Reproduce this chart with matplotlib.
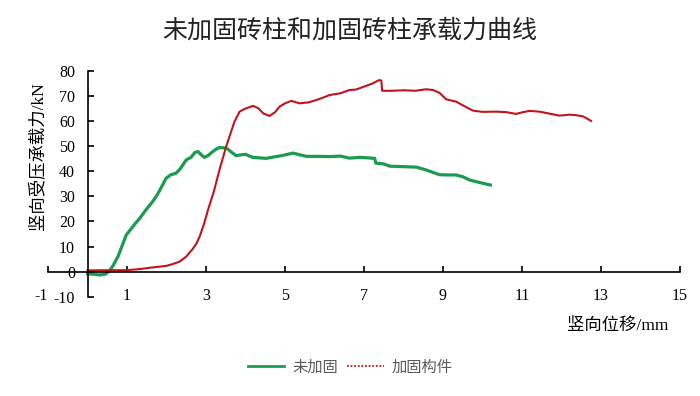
import matplotlib
matplotlib.use("Agg")
import matplotlib.pyplot as plt
from matplotlib.lines import Line2D

plt.rcParams["axes.unicode_minus"] = False

# 未加固 (unreinforced) - displacement mm / load kN
x_plain = [0, 0.15, 0.3, 0.45, 0.55, 0.65, 0.77, 0.88, 0.98, 1.1, 1.2, 1.32, 1.45, 1.55,
           1.65, 1.78, 1.9, 1.99, 2.1, 2.24, 2.35, 2.5, 2.62, 2.72, 2.8, 2.88, 2.96, 3.05,
           3.17, 3.26, 3.34, 3.45, 3.55, 3.65, 3.76, 3.88, 4.01, 4.1, 4.19, 4.35, 4.52,
           4.7, 4.95, 5.2, 5.35, 5.54, 5.87, 6.13, 6.4, 6.63, 6.9, 7.1, 7.27, 7.3, 7.5,
           7.65, 8.0, 8.33, 8.57, 8.91, 9.1, 9.33, 9.5, 9.67, 9.9, 10.2]
y_plain = [-0.9, -1.0, -1.3, -1.0, 0.2, 2.5, 6, 10.5, 14.6, 17, 19, 21.2, 24, 26,
           27.9, 31, 34.5, 37.2, 38.5, 39.2, 41, 44.5, 45.5, 47.5, 47.8, 46.5, 45.5, 46.2,
           47.8, 48.8, 49.4, 49.3, 48.8, 47.5, 46.2, 46.5, 46.7, 46.0, 45.5, 45.3, 45.1,
           45.6, 46.3, 47.2, 46.6, 45.9, 45.9, 45.8, 46.0, 45.2, 45.5, 45.3, 45.1, 43.2, 42.9,
           42.0, 41.8, 41.6, 40.5, 38.6, 38.5, 38.5, 37.8, 36.5, 35.6, 34.5]

# 加固构件 (reinforced)
x_reinf = [0, 0.5, 0.98, 1.3, 1.6, 1.99, 2.15, 2.33, 2.5, 2.66, 2.75, 2.84, 2.95, 3.05,
           3.2, 3.34, 3.51, 3.62, 3.72, 3.85, 3.98, 4.1, 4.19, 4.33, 4.45, 4.61, 4.75,
           4.86, 5.0, 5.16, 5.37, 5.6, 5.79, 6.0, 6.13, 6.4, 6.63, 6.8, 6.97, 7.2, 7.39,
           7.44, 7.46, 7.7, 8.0, 8.3, 8.57, 8.75, 8.91, 9.08, 9.33, 9.55, 9.76, 10.0,
           10.35, 10.6, 10.85, 11.0, 11.19, 11.44, 11.7, 11.95, 12.2, 12.37, 12.55, 12.75]
y_reinf = [0.5, 0.6, 0.6, 1.0, 1.6, 2.3, 3.0, 4.0, 6.0, 9.0, 11, 14, 19, 24.6,
           32, 40.5, 49.8, 55, 59.7, 63.7, 64.8, 65.5, 66, 65, 63, 62, 63.5,
           65.7, 67, 68, 67, 67.4, 68.3, 69.5, 70.3, 71.0, 72.3, 72.5, 73.5, 74.8, 76.3,
           76.0, 72.0, 72.0, 72.2, 72.0, 72.6, 72.3, 71.2, 68.6, 67.7, 65.8, 64.1, 63.6,
           63.7, 63.5, 62.8, 63.4, 64.0, 63.7, 62.9, 62.1, 62.5, 62.3, 61.8, 60.0]

series_names = ["未加固", "加固构件"]
x_ticks = [-1, 1, 3, 5, 7, 9, 11, 13, 15]
y_ticks = [-10, 0, 10, 20, 30, 40, 50, 60, 70, 80]

green = "#1a9c50"
red = "#c0141c"
mixed = ["Liberation Serif", "Noto Sans CJK SC"]

fig = plt.figure(figsize=(7, 3.96), dpi=100)
ax = fig.add_axes([0.0686, 0.2505, 0.9028, 0.571])

ax.plot(x_plain, y_plain, color=green, lw=2.3, solid_joinstyle="round")
ax.plot(x_reinf, y_reinf, color=red, lw=1.5, solid_joinstyle="round")

ax.set_xlim(-1, 15)
ax.set_ylim(-10, 80)
ax.spines["left"].set_position(("data", 0))
ax.spines["bottom"].set_position(("data", 0))
ax.spines["top"].set_visible(False)
ax.spines["right"].set_visible(False)
for s in ("left", "bottom"):
    ax.spines[s].set_linewidth(1.2)

ax.set_xticks(x_ticks)
ax.set_yticks(y_ticks)
ax.tick_params(axis="x", direction="in", length=4, width=1.2, pad=12)
ax.tick_params(axis="y", direction="in", length=4, width=1.2, pad=9)
for lab in ax.get_xticklabels() + ax.get_yticklabels():
    lab.set_fontfamily("Liberation Serif")
    lab.set_fontsize(11.5)
# the -1 label sits just left of the -10 label, as in the original
ax.get_xticklabels()[0].set_horizontalalignment("right")
ax.get_xticklabels()[0].set_x(-0.6)

fig.text(0.5, 0.922, "未加固砖柱和加固砖柱承载力曲线", ha="center", va="center",
         fontsize=18, family="Noto Sans CJK SC", color="#222222")
fig.text(0.054, 0.605, "竖向受压承载力/kN", rotation=90, ha="center", va="center",
         fontsize=12.5, family=mixed)
fig.text(0.955, 0.178, "竖向位移/mm", ha="right", va="center",
         fontsize=12.5, family=mixed)

handles = [Line2D([], [], color=green, lw=2),
           Line2D([], [], color=red, lw=1.3, ls=(0, (1, 1)))]
leg = fig.legend(handles, series_names, loc="center", bbox_to_anchor=(0.5, 0.073),
                 ncol=2, frameon=False, handlelength=2.4, handletextpad=0.5,
                 columnspacing=0.6, prop={"family": "Noto Sans CJK SC", "size": 11})
for t in leg.get_texts():
    t.set_color("#595959")

fig.savefig("out.png", dpi=100)
